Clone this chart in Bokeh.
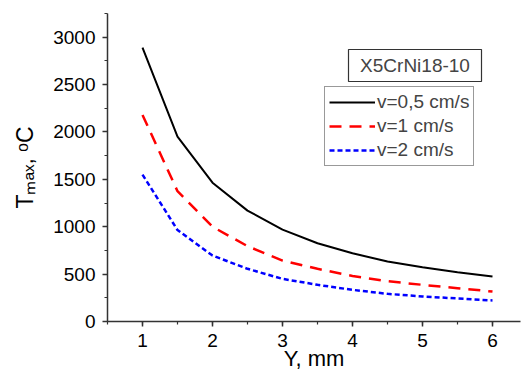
from bokeh.plotting import figure
from bokeh.models import (Range1d, SingleIntervalTicker, Legend, LegendItem,
                          Label, BoxAnnotation)
from bokeh.embed import file_html
from bokeh.resources import INLINE

# ---- data ----
y_mm = [1.0, 1.5, 2.0, 2.5, 3.0, 3.5, 4.0, 4.5, 5.0, 5.5, 6.0]
t_v05 = [2890, 1950, 1465, 1170, 970, 826, 720, 633, 573, 520, 475]
t_v1 = [2180, 1375, 1000, 795, 643, 556, 480, 425, 387, 352, 316]
t_v2 = [1550, 965, 696, 556, 450, 387, 334, 292, 264, 243, 222]
series_labels = ["v=0,5 cm/s", "v=1 cm/s", "v=2 cm/s"]
material = "X5CrNi18-10"
x_label = "Y, mm"
y_label = "T\u2098\u2090\u2093, \u1d52C"

FONT = "Liberation Sans"

p = figure(width=521, height=374, output_backend="svg", toolbar_location=None,
           x_range=Range1d(0.5, 6.4), y_range=Range1d(0, 3250),
           min_border_left=107, min_border_right=1, min_border_top=13,
           min_border_bottom=53)
p.outline_line_color = None
p.xgrid.visible = False
p.ygrid.visible = False
p.background_fill_color = "white"
p.border_fill_color = "white"

for ax, interval in ((p.xaxis[0], 1), (p.yaxis[0], 500)):
    ax.ticker = SingleIntervalTicker(interval=interval, num_minor_ticks=2)
    ax.axis_line_color = "#333333"
    ax.axis_line_width = 1.5
    ax.major_tick_line_color = "#333333"
    ax.minor_tick_line_color = "#333333"
    ax.major_tick_line_width = 1.5
    ax.minor_tick_line_width = 1.2
    ax.major_tick_in = 0
    ax.major_tick_out = 5
    ax.minor_tick_in = 0
    ax.minor_tick_out = 3
    ax.major_label_text_font = FONT
    ax.major_label_text_font_size = "19px"
    ax.major_label_text_color = "black"
    ax.major_label_standoff = 7
    ax.axis_label_text_font = FONT
    ax.axis_label_text_font_style = "normal"
    ax.axis_label_text_color = "black"

p.xaxis[0].axis_label = x_label
p.xaxis[0].axis_label_text_font_size = "22px"
p.xaxis[0].axis_label_standoff = -4
p.yaxis[0].axis_label = y_label
p.yaxis[0].axis_label_text_font_size = "23px"
p.yaxis[0].axis_label_standoff = 12

r1 = p.line(y_mm, t_v05, line_color="black", line_width=2)
r2 = p.line(y_mm, t_v1, line_color="red", line_width=2.5, line_dash="12 8")
r3 = p.line(y_mm, t_v2, line_color="blue", line_width=2.5, line_dash="5 3")

legend = Legend(items=[LegendItem(label=series_labels[0], renderers=[r1]),
                       LegendItem(label=series_labels[1], renderers=[r2]),
                       LegendItem(label=series_labels[2], renderers=[r3])],
                location=(217, 155), padding=4, margin=0, spacing=2,
                glyph_width=46, glyph_height=20, label_height=20,
                label_standoff=2, label_text_font=FONT,
                label_text_font_size="19px", border_line_color="#333333",
                border_line_width=1.2, background_fill_alpha=1.0)
p.add_layout(legend, "center")

# material box
box = BoxAnnotation(left=241, right=374, bottom=240, top=272,
                    left_units="screen", right_units="screen",
                    top_units="screen", bottom_units="screen",
                    fill_color="white", fill_alpha=1.0,
                    line_color="#333333", line_alpha=1.0, line_width=1.2)
p.add_layout(box)
p.add_layout(Label(x=307.5, y=256, x_units="screen", y_units="screen",
                   text=material, text_font=FONT, text_font_size="19px",
                   text_align="center", text_baseline="middle"))

open("out.html", "w").write(file_html(p, INLINE))
